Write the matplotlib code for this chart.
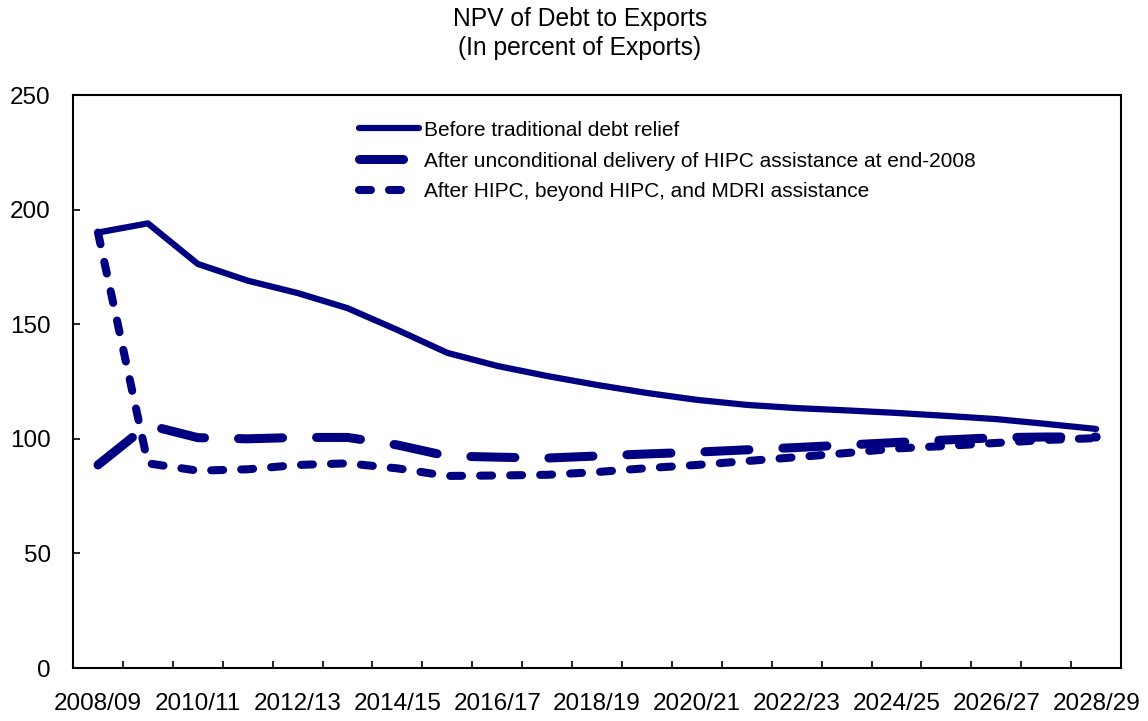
import numpy as np
import matplotlib
matplotlib.use("Agg")
import matplotlib.pyplot as plt

plt.rcParams['font.family'] = ['Liberation Sans', 'DejaVu Sans']
plt.rcParams['lines.scale_dashes'] = False

years = ["2008/09", "2009/10", "2010/11", "2011/12", "2012/13", "2013/14", "2014/15",
         "2015/16", "2016/17", "2017/18", "2018/19", "2019/20", "2020/21", "2021/22",
         "2022/23", "2023/24", "2024/25", "2025/26", "2026/27", "2027/28", "2028/29"]

# NPV of debt to exports, in percent
before_relief = [190, 194, 176.3, 169, 163.6, 157, 147.5, 137.5, 131.8, 127.4, 123.5,
                 120, 117, 114.8, 113.4, 112.4, 111.3, 110, 108.6, 106.5, 104.3]
after_hipc = [88.6, 106, 100.5, 100, 100.6, 100.6, 97.3, 92.5, 92, 91.6, 92.5,
              93.4, 94.2, 95.2, 96.2, 97.3, 98.4, 99.5, 100.5, 100.8, 100.8]
after_mdri = [190, 89.3, 86.1, 86.7, 88.6, 89.3, 87.1, 83.8, 84, 84.3, 85.5,
              87.2, 88.6, 90.3, 92, 93.8, 95.8, 96.9, 98.2, 99.5, 100.3]

labels = ["Before traditional debt relief",
          "After unconditional delivery of HIPC assistance at end-2008",
          "After HIPC, beyond HIPC, and MDRI assistance"]

navy = "#000080"
xs = np.arange(len(years))

fig = plt.figure(figsize=(11.48, 7.21), dpi=100)
ax = fig.add_axes([0.0636, 0.0735, 0.913, 0.7947])

ax.plot(xs, before_relief, color=navy, lw=4.5, solid_capstyle='round',
        solid_joinstyle='round', label=labels[0])
ax.plot(xs, after_hipc, color=navy, lw=6.5, dashes=(31.7, 24.5), dash_capstyle='round',
        dash_joinstyle='round', label=labels[1])
ax.plot(xs, after_mdri, color=navy, lw=5.8, dashes=(8.6, 13), dash_capstyle='round',
        dash_joinstyle='round', label=labels[2])

ax.set_xlim(-0.5, len(years) - 0.5)
ax.set_ylim(0, 250)
ax.set_yticks([0, 50, 100, 150, 200, 250])
ax.set_xticks(xs[::2])
ax.set_xticklabels(years[::2])
ax.set_xticks(np.arange(0.5, len(years) - 1, 1), minor=True)

ax.tick_params(axis='y', direction='in', length=5, width=1.2, labelsize=17.5, pad=16)
ax.tick_params(axis='x', which='major', length=0, labelsize=17.5, pad=18)
ax.tick_params(axis='x', which='minor', direction='in', length=5, width=1.2)
for s in ax.spines.values():
    s.set_linewidth(1.5)

fig.text(0.505, 0.99, "NPV of Debt to Exports\n(In percent of Exports)", ha='center',
         va='top', fontsize=17.7, linespacing=1.25)

ax.legend(loc='upper left', bbox_to_anchor=(0.304, 0.847), bbox_transform=fig.transFigure,
          frameon=False, fontsize=15, borderpad=0, handlelength=2.85, handletextpad=0.25,
          labelspacing=0.57)

plt.savefig("out.png", dpi=100)
